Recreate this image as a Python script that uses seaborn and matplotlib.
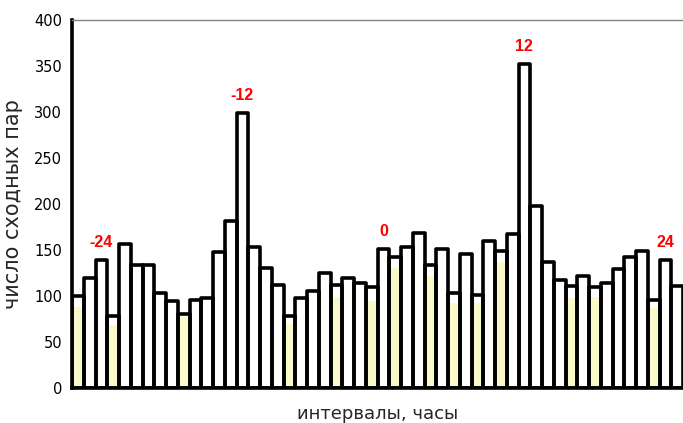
"""Hourly counts of matching pairs, with the +-12 h peaks marked in red."""

import matplotlib.pyplot as plt
import numpy as np
import seaborn as sns

# hourly intervals relative to the reference moment
hours = list(range(-26, 26))

# number of matching pairs per interval (outlined bars)
pairs = [100, 120, 139, 78, 157, 134, 134, 103, 95, 81,
         96, 98, 148, 182, 299, 153, 131, 112, 78, 98,
         106, 125, 112, 120, 114, 110, 151, 143, 153, 169,
         134, 151, 103, 146, 101, 160, 149, 168, 353, 198,
         137, 118, 111, 122, 110, 114, 130, 143, 149, 96,
         139, 111]

# lower (yellow) counts, only present in some intervals
yellow_hours = [-26, -23, -17, -8, -4, -1, 1, 4, 6, 8, 10, 16, 18, 23]
yellow_counts = [88, 69, 77, 70, 99, 95, 131, 122, 93, 92, 137, 98, 99, 87]

marked_hours = [-24, -12, 0, 12, 24]

y_ticks = list(range(0, 401, 50))

sns.set_style("white")
plt.rcParams["font.family"] = ["Liberation Sans", "DejaVu Sans"]

yellow = np.full(len(hours), np.nan)
for h, v in zip(yellow_hours, yellow_counts):
    yellow[hours.index(h)] = v

fig = plt.figure(figsize=(6.83, 4.23), dpi=100)
ax = fig.add_axes([72 / 683, 35 / 423, 611 / 683, 367.5 / 423])

sns.barplot(x=hours, y=yellow, order=hours, color="#FBF8CC", saturation=1,
            width=1, linewidth=0, errorbar=None, ax=ax)
sns.barplot(x=hours, y=pairs, order=hours, fill=False, color="black",
            linewidth=2.6, width=1, errorbar=None, ax=ax)
for patch in ax.patches:
    patch.set_joinstyle("round")

for h in marked_hours:
    i = hours.index(h)
    ax.annotate(str(h), (i, pairs[i]), xytext=(0, 12.5), textcoords="offset points",
                ha="center", va="center", color="red", fontweight="bold",
                fontsize=11.5)

ax.set_xlim(-0.5, len(hours) - 0.5)
ax.set_ylim(0, 400)
ax.set_yticks(y_ticks)
ax.set_xticks([])
ax.tick_params(axis="y", direction="out", length=3, width=2.6, color="black",
               pad=4, labelsize=10.5, labelcolor="black")
for lab in ax.get_yticklabels():
    lab.set_family("DejaVu Sans")

for side in ("left", "bottom"):
    ax.spines[side].set_color("black")
    ax.spines[side].set_linewidth(2.6)
ax.spines["right"].set_visible(False)
ax.spines["top"].set_color("#808080")
ax.spines["top"].set_linewidth(1)

ax.set_xlabel("интервалы, часы", fontsize=13, family="DejaVu Sans", labelpad=12)
ax.set_ylabel("число сходных пар", fontsize=15, family="DejaVu Sans", labelpad=8)

fig.savefig("out.png", dpi=100)
